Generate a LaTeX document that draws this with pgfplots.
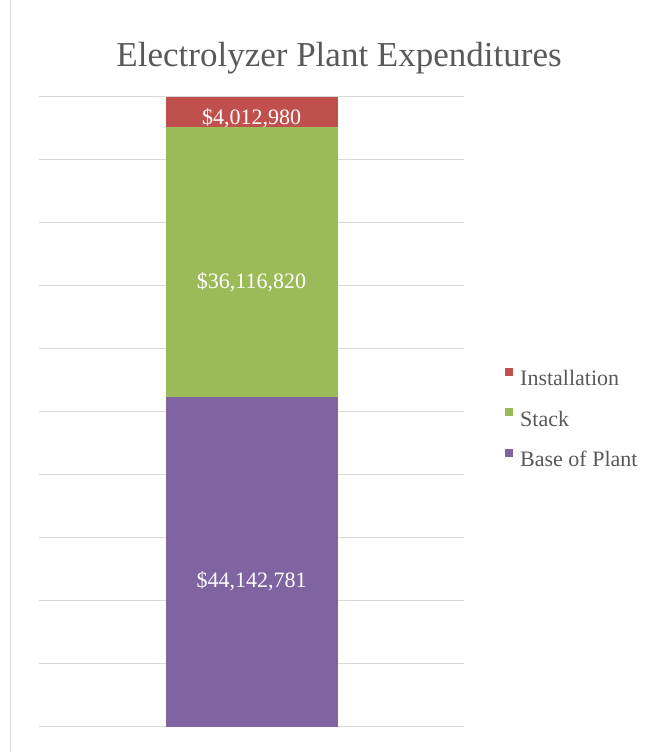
\documentclass[border=0pt]{standalone}
\usepackage{pgfplots}
\pgfplotsset{compat=1.18}
\usepackage{fontspec}
\setmainfont{Liberation Serif}
\definecolor{instred}{HTML}{C0504D}
\definecolor{stackgreen}{HTML}{9BBB59}
\definecolor{basepurple}{HTML}{8064A2}
\definecolor{txtgray}{HTML}{595959}
\definecolor{gridgray}{HTML}{D9D9D9}
\begin{document}
\begin{tikzpicture}
\useasboundingbox (0,0) rectangle (656pt,752pt);
\draw[gridgray, line width=1pt] (10pt,0) -- (10pt,752pt);
\begin{axis}[
  at={(39pt,25pt)}, anchor=south west,
  width=425pt, height=630pt, scale only axis,
  ybar stacked, bar width=172pt,
  xmin=-0.5, xmax=0.5, ymin=0, ymax=84272581,
  scaled y ticks=false,
  xtick=\empty,
  ytick={0,8427258,16854516,25281774,33709032,42136291,50563549,58990807,67418065,75845323,84272581},
  yticklabels={},
  major tick length=0pt,
  ymajorgrids, grid style={gridgray, line width=1pt},
  axis line style={draw=none},
  clip=false,
  title={Electrolyzer Plant Expenditures},
  title style={at={(0.706,1.052)}, anchor=center, font=\fontsize{35}{40}\selectfont, text=txtgray},
  legend style={at={(1.0965,0.489)}, anchor=west, draw=none, fill=none,
    font=\fontsize{22}{26}\selectfont, text=txtgray, row sep=19pt, inner sep=0pt,
    nodes={inner xsep=7pt}},
  reverse legend,
  legend cell align=left,
  legend image code/.code={\fill[#1] (0pt,3pt) rectangle (8pt,11pt);},
]
\addplot[fill=basepurple, draw=none] coordinates {(0,44142781)};
\addplot[fill=stackgreen, draw=none] coordinates {(0,36116820)};
\addplot[fill=instred, draw=none] coordinates {(0,4012980)};
\legend{Base of Plant, Stack, Installation}
\coordinate (lb) at (axis cs:0,19530000);
\coordinate (ls) at (axis cs:0,59530000);
\coordinate (li) at (axis cs:0,81460000);
\end{axis}
\node[white, font=\fontsize{22}{26}\selectfont] at (lb) {\$44,142,781};
\node[white, font=\fontsize{22}{26}\selectfont] at (ls) {\$36,116,820};
\node[white, font=\fontsize{22}{26}\selectfont] at (li) {\$4,012,980};
\end{tikzpicture}
\end{document}
